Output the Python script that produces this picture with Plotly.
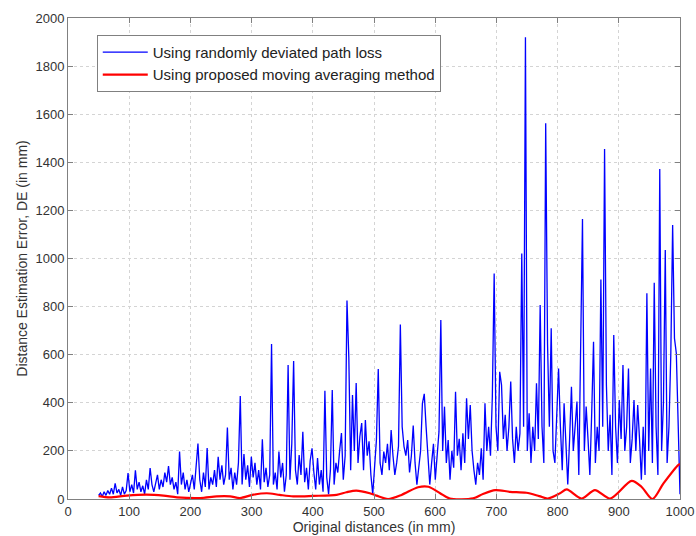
import numpy as np
import plotly.graph_objects as go

blue_start, blue_end = 50, 1000
blue_values = [
    # 50-98
    15, 25, 10, 30, 15, 35, 20, 45, 20, 65, 25, 40, 15, 50, 20, 35, 108,
    # 101-200
    30, 60, 25, 119, 40, 70, 30, 55, 20, 80, 40, 129, 60, 30, 70, 100, 40,
    80, 50, 110, 70, 137, 60, 90, 40, 70, 20, 197, 60, 110, 40, 80, 30, 60,
    # 203-299
    100, 40, 150, 231, 80, 30, 110, 50, 212, 40, 90, 60, 120, 50, 175, 80,
    140, 60, 100, 297, 80, 130, 40, 110, 60, 150, 428, 60, 187, 80, 140, 50, 176,
    # 302-398
    90, 150, 60, 120, 40, 248, 70, 130, 50, 100, 644, 60, 110, 40, 197, 90,
    150, 30, 100, 557, 80, 230, 574, 120, 60, 183, 100, 280, 70, 130, 40, 160, 211,
    # 401-500
    110, 40, 170, 60, 120, 30, 450, 90, 20, 120, 453, 60, 150, 110, 200, 274,
    80, 180, 825, 590, 120, 432, 200, 482, 150, 260, 316, 120, 328, 180, 240, 100, 20, 150,
    # 503-599
    245, 540, 150, 100, 197, 150, 230, 120, 287, 180, 100, 150, 220, 726, 300, 218,
    180, 245, 110, 180, 305, 150, 60, 130, 200, 398, 437, 300, 176, 60, 150, 230, 80,
    # 602-698
    180, 280, 744, 200, 384, 150, 245, 80, 200, 130, 446, 180, 250, 120, 273, 150,
    419, 250, 391, 200, 120, 60, 150, 100, 211, 80, 398, 200, 300, 180, 425, 938, 300,
    # 701-800
    200, 529, 474, 250, 350, 200, 300, 488, 250, 150, 300, 200, 273, 1021, 300, 1920,
    200, 356, 150, 300, 200, 481, 250, 807, 300, 150, 1562, 647, 300, 710, 200, 150, 370, 543,
    # 803-899
    300, 120, 398, 200, 60, 250, 467, 200, 300, 405, 100, 599, 1164, 200, 384, 250,
    100, 356, 654, 150, 300, 200, 913, 300, 1455, 474, 200, 350, 100, 682, 300, 150, 412,
    # 902-998
    250, 557, 200, 300, 543, 150, 250, 412, 200, 391, 250, 80, 300, 100, 855, 200,
    543, 150, 899, 300, 100, 1372, 200, 400, 1035, 150, 300, 600, 1139, 668, 606, 245, 20,
]

# Red series: smooth moving-average curve
red_x = [50, 68, 96, 128, 156, 178, 216, 243, 265, 281, 303, 325, 346, 368, 401,
         439, 455, 471, 493, 504, 523, 545, 572, 589, 608, 624, 662, 678, 698, 722,
         749, 770, 784, 804, 815, 839, 861, 886, 921, 937, 955, 973, 997, 1000]
red_y = [12, 7, 14, 18, 14, 7, 4, 11, 11, 4, 18, 24, 17, 11, 13,
         17, 28, 35, 24, 14, 0, 17, 49, 51, 24, 2, 3, 21, 37, 30,
         26, 12, 2, 24, 40, 2, 37, 2, 75, 51, 0, 65, 141, 145]

series_names = ["Using randomly deviated path loss",
                "Using proposed moving averaging method"]

x_ticks = list(range(0, 1001, 100))
y_ticks = list(range(0, 2001, 200))

blue_x = np.linspace(blue_start, blue_end, len(blue_values))

fig = go.Figure()
fig.add_trace(go.Scatter(x=blue_x, y=blue_values, mode="lines", name=series_names[0],
                         line=dict(color="#0000ff", width=1.3)))
fig.add_trace(go.Scatter(x=red_x, y=red_y, mode="lines", name=series_names[1],
                         line=dict(color="#ff0000", width=2.2, shape="spline", smoothing=0.8)))

axis_common = dict(
    showline=True, linecolor="#808080", linewidth=1, mirror="ticks",
    ticks="inside", ticklen=5, tickcolor="#808080",
    showgrid=True, gridcolor="#d4d4d4", griddash="dot", gridwidth=1,
    zeroline=False, tickfont=dict(size=13, color="#333333"), automargin=False,
)

fig.update_layout(
    width=696, height=536,
    margin=dict(l=68, r=16, t=18, b=37),
    paper_bgcolor="white", plot_bgcolor="white",
    font=dict(family="Liberation Sans, Arial, sans-serif", color="#333333"),
    xaxis=dict(range=[0, 1000], tickvals=x_ticks,
               title=dict(text="Original distances (in mm)", font=dict(size=14), standoff=0),
               **axis_common),
    yaxis=dict(range=[0, 2000], tickvals=y_ticks,
               title=dict(text="Distance Estimation Error, DE (in mm)", font=dict(size=14), standoff=4),
               **axis_common),
    legend=dict(x=0.047, y=0.965, xanchor="left", yanchor="top",
                bgcolor="white", bordercolor="#808080", borderwidth=1,
                font=dict(size=15, color="#222222"), tracegroupgap=0, itemwidth=45),
    showlegend=True,
)

fig.write_html("out.html", config={"displayModeBar": False},
               post_script="document.body.style.margin='0px';document.body.style.overflow='hidden';")
